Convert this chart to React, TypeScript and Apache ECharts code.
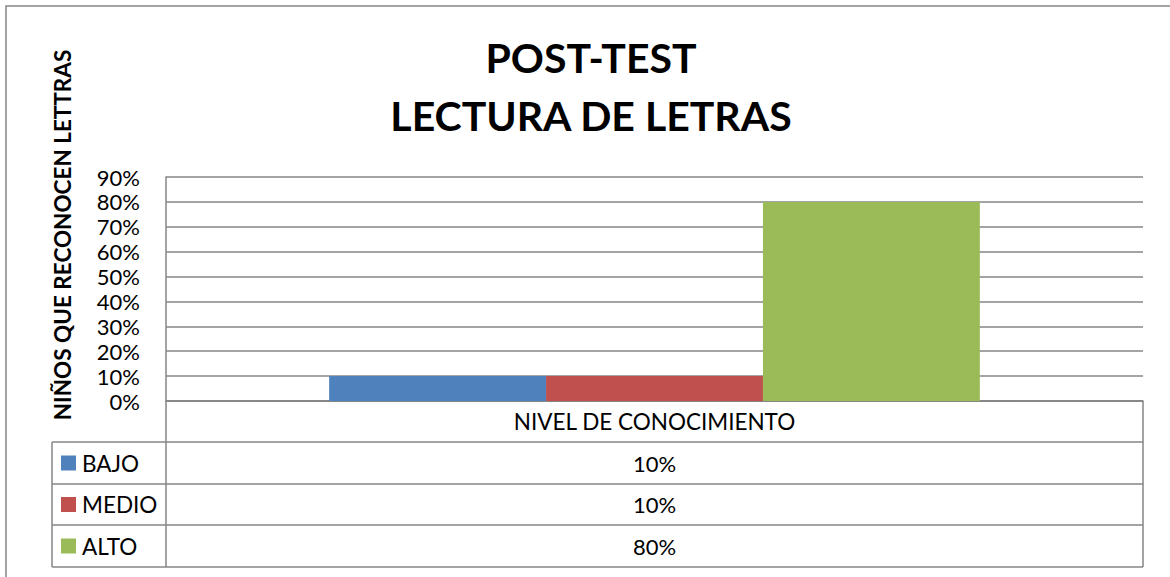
import React, { useEffect, useRef } from "react";
import * as echarts from "echarts";

const categories = ["NIVEL DE CONOCIMIENTO"];
const seriesNames = ["BAJO", "MEDIO", "ALTO"];
const seriesValues = [[0.1], [0.1], [0.8]];
const seriesColors = ["#4F81BD", "#C0504D", "#9BBB59"];
const yMin = 0;
const yMax = 0.9;
const yInterval = 0.1;
const titleLines = ["POST-TEST", "LECTURA DE LETRAS"];
const yAxisTitle = "NIÑOS QUE RECONOCEN LETTRAS";

const pct = (v: number) => Math.round(v * 100) + "%";

const FONT = "Lato";
const GRAY = "#868686";

export default function App() {
  const ref = useRef<HTMLDivElement>(null);
  useEffect(() => {
    if (!ref.current) return;
    const chart = echarts.init(ref.current, null, { renderer: "svg" });

    const tableLeft = 52;
    const plotLeft = 166;
    const plotRight = 1143;
    const axisY = 401;
    const rowYs = [442, 484, 525, 567];
    const midX = (plotLeft + plotRight) / 2;

    const graphics: any[] = [
      {
        type: "rect",
        shape: { x: 6, y: 6, width: 1200, height: 620 },
        style: { fill: "none", stroke: GRAY, lineWidth: 1.5 },
        silent: true,
      },
      {
        type: "text",
        x: 62,
        y: 235,
        rotation: Math.PI / 2,
        style: {
          text: yAxisTitle,
          fontFamily: FONT,
          fontWeight: "bold",
          fontSize: 22.5,
          fill: "#000",
          align: "center",
          verticalAlign: "middle",
        },
      },
      // table lines
      { type: "line", shape: { x1: plotLeft, y1: axisY, x2: plotLeft, y2: rowYs[3] }, style: { stroke: GRAY, lineWidth: 1.5 } },
      { type: "line", shape: { x1: plotRight, y1: axisY, x2: plotRight, y2: rowYs[3] }, style: { stroke: GRAY, lineWidth: 1.5 } },
      { type: "line", shape: { x1: tableLeft, y1: rowYs[0], x2: tableLeft, y2: rowYs[3] }, style: { stroke: GRAY, lineWidth: 1.5 } },
      { type: "line", shape: { x1: plotLeft, y1: axisY, x2: plotRight, y2: axisY }, style: { stroke: GRAY, lineWidth: 1.5 } },
    ];
    rowYs.forEach((y) => {
      graphics.push({
        type: "line",
        shape: { x1: tableLeft, y1: y, x2: plotRight, y2: y },
        style: { stroke: GRAY, lineWidth: 1.5 },
      });
    });
    seriesNames.forEach((name, i) => {
      const cy = (rowYs[i] + rowYs[i + 1]) / 2;
      graphics.push({
        type: "rect",
        shape: { x: 61, y: cy - 7.5, width: 15, height: 15 },
        style: { fill: seriesColors[i] },
      });
      graphics.push({
        type: "text",
        x: 82,
        y: cy,
        style: {
          text: name,
          fontFamily: FONT,
          fontSize: 22.5,
          fill: "#000",
          align: "left",
          verticalAlign: "middle",
        },
      });
      graphics.push({
        type: "text",
        x: midX,
        y: cy,
        style: {
          text: pct(seriesValues[i][0]),
          fontFamily: FONT,
          fontSize: 22,
          fill: "#000",
          align: "center",
          verticalAlign: "middle",
        },
      });
    });

    chart.setOption({
      animation: false,
      backgroundColor: "#fff",
      title: {
        text: titleLines.join("\n"),
        left: 586,
        textAlign: "center",
        top: 23,
        textStyle: {
          fontFamily: FONT,
          fontWeight: "bold",
          fontSize: 41,
          lineHeight: 58,
          color: "#000",
        },
      },
      grid: { left: plotLeft, right: 1170 - plotRight, top: 177, bottom: 577 - axisY },
      xAxis: {
        type: "category",
        data: categories,
        axisLine: { show: true, lineStyle: { color: GRAY, width: 1.5 } },
        axisTick: { show: false },
        axisLabel: { fontFamily: FONT, fontSize: 22.5, color: "#000", margin: 9 },
      },
      yAxis: {
        type: "value",
        min: yMin,
        max: yMax,
        interval: yInterval,
        axisLine: { show: true, lineStyle: { color: GRAY, width: 1.5 } },
        axisTick: { show: false },
        splitLine: { show: true, lineStyle: { color: GRAY, width: 1.5 } },
        axisLabel: {
          fontFamily: FONT,
          fontSize: 22,
          color: "#000",
          margin: 26,
          formatter: (v: number) => pct(v),
        },
      },
      series: seriesNames.map((name, i) => ({
        type: "bar",
        name,
        data: seriesValues[i],
        itemStyle: { color: seriesColors[i] },
        barGap: "0%",
        barCategoryGap: "33.4%",
      })),
      graphic: graphics,
    });
    return () => chart.dispose();
  }, []);
  return (
    <div
      ref={ref}
      style={{ position: "fixed", left: 0, top: 0, width: 1170, height: 577, background: "#fff" }}
    />
  );
}
